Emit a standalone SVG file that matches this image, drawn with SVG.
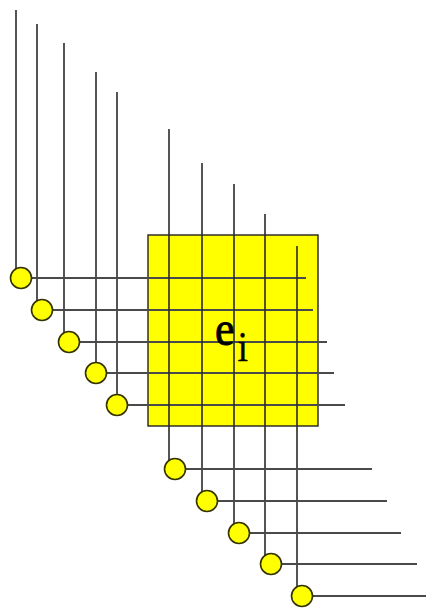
<svg xmlns="http://www.w3.org/2000/svg" width="426" height="612" viewBox="0 0 426 612">
<style>
.v{stroke:#2a2a2a;stroke-width:1.6;fill:none}
.h{stroke:#4a4a4a;stroke-width:1.8;fill:none}
.c{fill:#ffff00;stroke:#333300;stroke-width:1.6}
.lbl{font-family:"Liberation Serif","Times New Roman",serif;fill:#000}
</style>
<rect width="426" height="612" fill="#fff"/>
<g id="element">
<rect x="148" y="235" width="170" height="191" fill="#ffff00" stroke="#222" stroke-width="1.4"/>
</g>
<g id="connectors">
<line class="v" x1="16" y1="10" x2="16" y2="278"/>
<line class="v" x1="37" y1="24" x2="37" y2="310"/>
<line class="v" x1="64" y1="43" x2="64" y2="342"/>
<line class="v" x1="96" y1="72" x2="96" y2="373"/>
<line class="v" x1="117" y1="92" x2="117" y2="405"/>
<line class="h" x1="21" y1="278" x2="306" y2="278"/>
<line class="h" x1="42" y1="310" x2="313" y2="310"/>
<line class="h" x1="69" y1="342" x2="327" y2="342"/>
<line class="h" x1="96" y1="373" x2="334" y2="373"/>
<line class="h" x1="117" y1="405" x2="345" y2="405"/>
<line class="v" x1="169" y1="129" x2="169" y2="469"/>
<line class="v" x1="202" y1="163" x2="202" y2="501"/>
<line class="v" x1="234" y1="184" x2="234" y2="533"/>
<line class="v" x1="265" y1="214" x2="265" y2="564"/>
<line class="v" x1="297" y1="246" x2="297" y2="596"/>
<line class="h" x1="175" y1="469" x2="372" y2="469"/>
<line class="h" x1="207" y1="501" x2="387" y2="501"/>
<line class="h" x1="239" y1="533" x2="401" y2="533"/>
<line class="h" x1="271" y1="564" x2="417" y2="564"/>
<line class="h" x1="302" y1="596" x2="426" y2="596"/>
</g>
<g id="n1"><circle class="c" cx="21" cy="278" r="10.5"/></g>
<g id="n2"><circle class="c" cx="42" cy="310" r="10.5"/></g>
<g id="n3"><circle class="c" cx="69" cy="342" r="10.5"/></g>
<g id="n4"><circle class="c" cx="96" cy="373" r="10.5"/></g>
<g id="n5"><circle class="c" cx="117" cy="405" r="10.5"/></g>
<g id="n6"><circle class="c" cx="175" cy="469" r="10.5"/></g>
<g id="n7"><circle class="c" cx="207" cy="501" r="10.5"/></g>
<g id="n8"><circle class="c" cx="239" cy="533" r="10.5"/></g>
<g id="n9"><circle class="c" cx="271" cy="564" r="10.5"/></g>
<g id="n10"><circle class="c" cx="302" cy="596" r="10.5"/></g>
<g id="label" transform="scale(1,1.12)">
<text class="lbl" x="215" y="308" font-size="44" stroke="#000" stroke-width="0.8">e<tspan x="237.5" y="322.3" font-size="38" stroke-width="0.3">i</tspan></text>
</g>
</svg>
